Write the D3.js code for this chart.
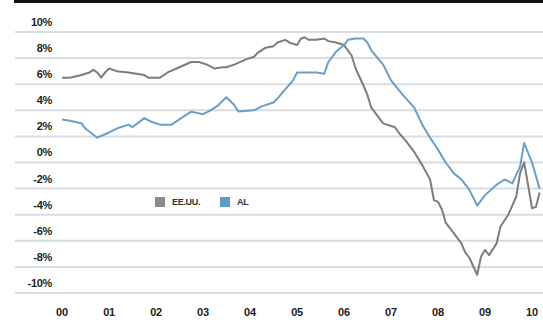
<!DOCTYPE html>
<html>
<head>
<meta charset="utf-8">
<script src="https://cdn.jsdelivr.net/npm/d3@7"></script>
<style>
  html, body { margin: 0; padding: 0; background: #fff; }
  svg { display: block; }
  text { font-family: "Liberation Sans", Arial, sans-serif; font-weight: bold; }
</style>
</head>
<body>
<svg id="chart" width="543" height="320"></svg>
<script>
// Year-on-year growth, monthly observations (%)
const usMonths = ["2000-01","2000-03","2000-06","2000-08","2000-09","2000-10","2000-11","2000-12",
  "2001-01","2001-03","2001-06","2001-10","2001-11","2002-02","2002-04","2002-07","2002-10","2002-12",
  "2003-02","2003-04","2003-06","2003-07","2003-09","2003-12","2004-02","2004-03","2004-05","2004-07",
  "2004-08","2004-10","2004-11","2005-01","2005-02","2005-03","2005-04","2005-06","2005-08","2005-09",
  "2005-11","2006-01","2006-03","2006-04","2006-06","2006-07","2006-08","2006-11","2007-02","2007-03",
  "2007-05","2007-07","2007-09","2007-11","2007-12","2008-01","2008-02","2008-03","2008-05","2008-07",
  "2008-08","2008-09","2008-11","2008-12","2009-01","2009-02","2009-04","2009-05","2009-07","2009-09",
  "2009-10","2009-11","2009-12","2010-01","2010-02","2010-03"];
const usValues = [6.5,6.5,6.7,6.9,7.1,6.9,6.5,6.9,
  7.2,7.0,6.9,6.7,6.5,6.5,6.9,7.3,7.7,7.7,
  7.5,7.2,7.3,7.3,7.5,7.9,8.1,8.4,8.8,8.9,
  9.2,9.4,9.2,9.0,9.5,9.6,9.4,9.4,9.5,9.3,
  9.2,9.0,8.2,7.2,5.9,5.2,4.2,3.0,2.7,2.3,
  1.6,0.8,-0.2,-1.3,-2.9,-3.0,-3.6,-4.6,-5.4,-6.2,
  -6.9,-7.3,-8.6,-7.2,-6.7,-7.1,-6.2,-4.9,-4.0,-2.6,
  -0.8,0.0,-1.7,-3.5,-3.4,-2.3];

const alMonths = ["2000-01","2000-03","2000-06","2000-07","2000-10","2001-01","2001-03","2001-06",
  "2001-07","2001-10","2001-12","2002-02","2002-05","2002-07","2002-10","2003-01","2003-03","2003-05",
  "2003-07","2003-09","2003-10","2004-02","2004-04","2004-07","2004-08","2004-10","2004-12","2005-01",
  "2005-03","2005-04","2005-06","2005-08","2005-09","2005-11","2006-01","2006-02","2006-04","2006-06",
  "2006-07","2006-08","2006-11","2007-01","2007-04","2007-07","2007-09","2007-11","2008-01","2008-03",
  "2008-05","2008-07","2008-09","2008-11","2009-01","2009-04","2009-06","2009-08","2009-10","2009-11",
  "2010-01","2010-03"];
const alValues = [3.3,3.2,3.0,2.6,1.9,2.3,2.6,2.9,
  2.7,3.4,3.1,2.9,2.9,3.3,3.9,3.7,4.0,4.4,
  5.0,4.4,3.9,4.0,4.3,4.6,4.9,5.6,6.3,6.9,
  6.9,6.9,6.9,6.8,7.7,8.5,9.0,9.4,9.5,9.5,
  9.2,8.6,7.5,6.3,5.2,4.2,2.9,1.9,1.0,0.0,
  -0.8,-1.3,-2.1,-3.3,-2.5,-1.7,-1.3,-1.6,-0.3,1.5,
  0.0,-2.0];

const yTicks = [10, 8, 6, 4, 2, 0, -2, -4, -6, -8, -10];
const yearLabels = ["00","01","02","03","04","05","06","07","08","09","10"];
const seriesNames = ["EE.UU.", "AL"];
const seriesColors = ["#7d7d7d", "#6b9ec5"];
const legendColors = ["#8c8c8c", "#5e9bc9"];

const svg = d3.select("#chart");
const parseMonth = d3.timeParse("%Y-%m");

const x = d3.scaleTime()
  .domain([new Date(2000, 0, 1), new Date(2010, 0, 1)])
  .range([62, 532]);
const y = d3.scaleLinear().domain([-10, 10]).range([293, 32]);

// Top rule
svg.append("rect").attr("x", 14).attr("y", 0).attr("width", 529).attr("height", 3).attr("fill", "#111");

// Horizontal gridlines
svg.append("g").selectAll("line").data(yTicks).join("line")
  .attr("x1", 15).attr("x2", 543)
  .attr("y1", d => y(d)).attr("y2", d => y(d))
  .attr("stroke", "#d6dde3").attr("stroke-width", 2);

// Y axis labels
svg.append("g").selectAll("text").data(yTicks).join("text")
  .attr("x", 52).attr("y", d => y(d) - 9)
  .attr("text-anchor", "end").attr("dominant-baseline", "middle")
  .attr("font-size", 11).attr("letter-spacing", -0.3).attr("fill", "#222")
  .text(d => d + "%");

// X axis labels (one per year)
svg.append("g").selectAll("text").data(yearLabels).join("text")
  .attr("x", (d, i) => x(new Date(2000 + i, 0, 1)))
  .attr("y", 313)
  .attr("text-anchor", "middle").attr("dominant-baseline", "middle")
  .attr("font-size", 11).attr("letter-spacing", -0.2).attr("fill", "#222")
  .text(d => d);

// Series lines
const line = d3.line().x(d => x(d.date)).y(d => y(d.value)).curve(d3.curveLinear);
const series = [
  usMonths.map((m, i) => ({ date: parseMonth(m), value: usValues[i] })),
  alMonths.map((m, i) => ({ date: parseMonth(m), value: alValues[i] }))
];
svg.append("g").selectAll("path").data(series).join("path")
  .attr("d", line)
  .attr("fill", "none")
  .attr("stroke", (d, i) => seriesColors[i])
  .attr("stroke-width", 2)
  .attr("stroke-linejoin", "round");

// Legend
const legend = svg.append("g").attr("transform", "translate(155,197)");
const legendOffsets = [0, 65];
const item = legend.selectAll("g").data(seriesNames).join("g")
  .attr("transform", (d, i) => `translate(${legendOffsets[i]},0)`);
item.append("rect").attr("width", 10).attr("height", 10)
  .attr("fill", (d, i) => legendColors[i]);
item.append("text").attr("x", 17).attr("y", 5.5)
  .attr("dominant-baseline", "middle")
  .attr("font-size", 9).attr("letter-spacing", -0.3).attr("fill", "#333")
  .text(d => d);
</script>
</body>
</html>
